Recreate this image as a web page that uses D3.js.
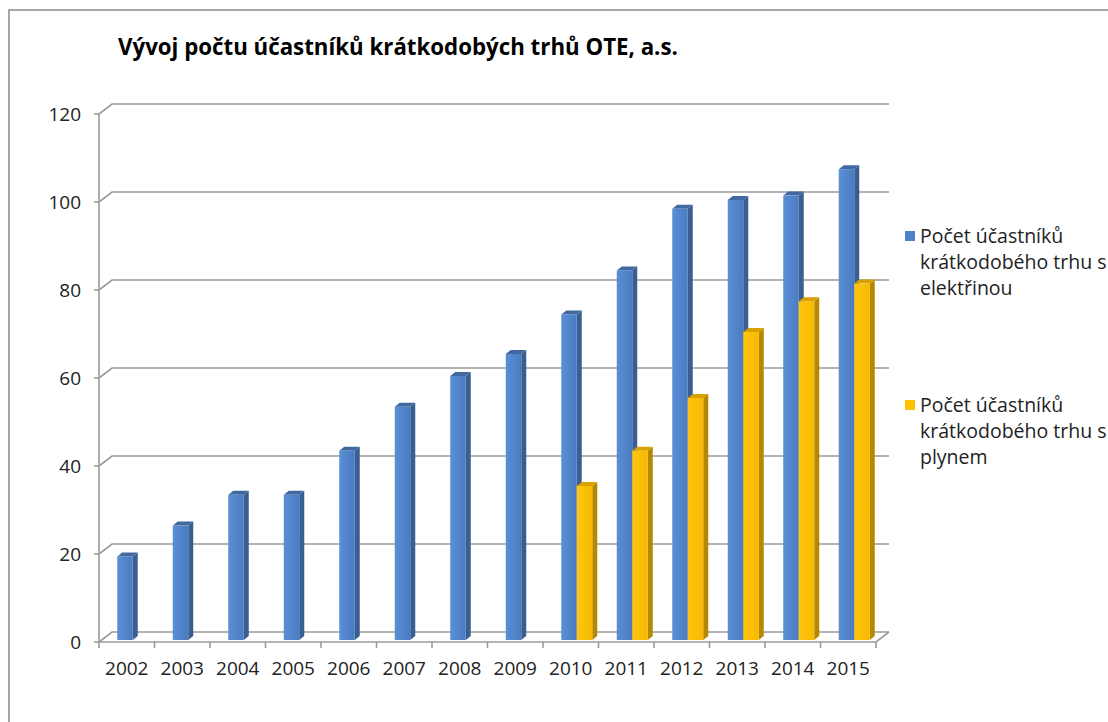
<!DOCTYPE html>
<html>
<head>
<meta charset="utf-8">
<script src="https://cdn.jsdelivr.net/npm/d3@7"></script>
<style>
  body { margin: 0; background: #fff; }
  svg { font-family: "Open Sans", Lato, sans-serif; }
</style>
</head>
<body>
<svg width="1108" height="722"></svg>
<script>
// data
var years = ["2002","2003","2004","2005","2006","2007","2008","2009","2010","2011","2012","2013","2014","2015"];
var elektrina = [19, 26, 33, 33, 43, 53, 60, 65, 74, 84, 98, 100, 101, 107];
var plyn = [null, null, null, null, null, null, null, null, 35, 43, 55, 70, 77, 81];
var seriesNames = ["Počet účastníků krátkodobého trhu s elektřinou", "Počet účastníků krátkodobého trhu s plynem"];
var yTicks = [0, 20, 40, 60, 80, 100, 120];

var svg = d3.select("svg");

// 3d-ish depth of the plot box
var DX = 13, DY = -10;

var x = d3.scaleBand().domain(years).range([99, 876]);
var y = d3.scaleLinear().domain([0, 120]).range([642, 114]);

// chart frame
svg.append("rect")
    .attr("x", 9).attr("y", 10)
    .attr("width", 1110).attr("height", 730)
    .attr("fill", "none")
    .attr("stroke", "#8a8a8a")
    .attr("stroke-width", 1.5);

// title, sized to the width it has in the original
var title = svg.append("text")
    .attr("x", 118).attr("y", 55)
    .attr("font-size", 20)
    .attr("font-weight", "bold")
    .attr("fill", "#000")
    .text("Vývoj počtu účastníků krátkodobých trhů OTE, a.s.");
var tw = title.node().getComputedTextLength();
title.attr("font-size", 20 * 560 / tw);

var grid = svg.append("g").attr("fill", "none").attr("stroke", "#9a9a9a").attr("stroke-width", 1.6);

// gridlines on the back wall + diagonal on the side wall
yTicks.forEach(function(t) {
    var yy = y(t);
    grid.append("path")
        .attr("d", "M" + x.range()[0] + "," + yy + "L" + (x.range()[0] + DX) + "," + (yy + DY) + "L" + (x.range()[1] + DX) + "," + (yy + DY));
});

// floor front edge + right side
grid.append("path")
    .attr("d", "M" + x.range()[0] + "," + y(0) + "L" + x.range()[1] + "," + y(0) + "L" + (x.range()[1] + DX) + "," + (y(0) + DY));

// left axis line + ticks
grid.append("path").attr("d", "M" + x.range()[0] + "," + y(120) + "L" + x.range()[0] + "," + y(0));
yTicks.forEach(function(t) {
    grid.append("path").attr("d", "M" + (x.range()[0] - 5) + "," + y(t) + "L" + x.range()[0] + "," + y(t));
});

// x ticks
years.concat(["end"]).forEach(function(d, i) {
    var xx = i < years.length ? x(d) : x.range()[1];
    grid.append("path").attr("d", "M" + xx + "," + y(0) + "L" + xx + "," + (y(0) + 6));
});

// y labels
svg.append("g").selectAll("text")
    .data(yTicks)
    .enter().append("text")
    .attr("x", 81)
    .attr("y", function(d) { return y(d) + 7; })
    .attr("text-anchor", "end")
    .attr("font-size", 19)
    .attr("fill", "#222")
    .text(function(d) { return d; });

// x labels
svg.append("g").selectAll("text")
    .data(years)
    .enter().append("text")
    .attr("x", function(d) { return x(d) + x.bandwidth() / 2; })
    .attr("y", 675)
    .attr("text-anchor", "middle")
    .attr("font-size", 19)
    .attr("fill", "#222")
    .text(function(d) { return d; });

// gradients
var defs = svg.append("defs");
function grad(id, c1, c2) {
    var g = defs.append("linearGradient").attr("id", id).attr("x1", 0).attr("x2", 1).attr("y1", 0).attr("y2", 0);
    g.append("stop").attr("offset", 0).attr("stop-color", c1);
    g.append("stop").attr("offset", 1).attr("stop-color", c2);
}
grad("gBlue", "#5a8fd6", "#4a7bbf");
grad("gGold", "#ffc510", "#f7b900");

var styles = [
    { front: "url(#gBlue)", side: "#385e92", top: "#41689f", legend: "#4f81c8" },
    { front: "url(#gGold)", side: "#b58800", top: "#d7a200", legend: "#ffc000" }
];

// bars: front face offset and bar depth
var FX = 6, FY = -2, BDX = 5, BDY = -4, BW = 15.5;

var bars = svg.append("g");
[elektrina, plyn].forEach(function(vals, s) {
    years.forEach(function(yr, i) {
        var v = vals[i];
        if (v == null) return;
        var cx = x(yr) + x.bandwidth() / 2;
        var x0 = cx - BW + s * BW + FX;
        var x1 = x0 + BW;
        var yt = y(v) + FY;
        var yb = y(0) + FY;
        var g = bars.append("g");
        // side
        g.append("path")
            .attr("d", "M" + x1 + "," + yt + "L" + (x1 + BDX) + "," + (yt + BDY) + "L" + (x1 + BDX) + "," + (yb + BDY) + "L" + x1 + "," + yb + "Z")
            .attr("fill", styles[s].side);
        // top
        g.append("path")
            .attr("d", "M" + x0 + "," + yt + "L" + (x0 + BDX) + "," + (yt + BDY) + "L" + (x1 + BDX) + "," + (yt + BDY) + "L" + x1 + "," + yt + "Z")
            .attr("fill", styles[s].top);
        // front
        g.append("rect")
            .attr("x", x0).attr("y", yt)
            .attr("width", BW).attr("height", yb - yt)
            .attr("fill", styles[s].front);
    });
});

// legend
var legendLines = [
    ["Počet účastníků", "krátkodobého trhu s", "elektřinou"],
    ["Počet účastníků", "krátkodobého trhu s", "plynem"]
];
var legendY = [243, 412];
legendLines.forEach(function(lines, s) {
    var lg = svg.append("g").attr("transform", "translate(905," + legendY[s] + ")");
    lg.append("rect")
        .attr("x", 0).attr("y", -12)
        .attr("width", 10).attr("height", 10)
        .attr("fill", styles[s].legend);
    lg.append("text")
        .attr("font-size", 19.5)
        .attr("fill", "#222")
        .selectAll("tspan")
        .data(lines)
        .enter().append("tspan")
        .attr("x", 15)
        .attr("y", function(d, i) { return i * 26; })
        .text(function(d) { return d; });
});
</script>
</body>
</html>
